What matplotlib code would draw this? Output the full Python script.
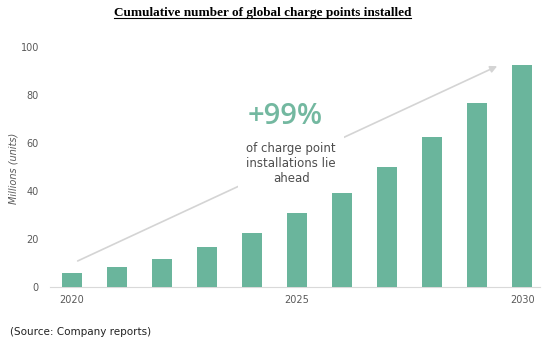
import numpy as np
import matplotlib.pyplot as plt
from matplotlib.lines import Line2D

# cumulative global charge points, millions of units
years = np.arange(2020, 2031)
charge_points = [5.7, 8.2, 11.7, 16.5, 22.6, 30.7, 39.0, 50.1, 62.4, 76.8, 92.5]
tick_years = [2020, 2025, 2030]
yticks = [0, 20, 40, 60, 80, 100]

bar_color = '#6ab59c'
label_color = '#595959'

fig = plt.figure(figsize=(5.49, 3.48), dpi=100, facecolor='white')
ax = fig.add_axes([0.091, 0.175, 0.893, 0.69])

ax.bar(years, charge_points, width=0.44, color=bar_color, zorder=4)

ax.set_xlim(2019.51, 2030.4)
ax.set_ylim(0, 100)
ax.set_xticks(tick_years)
ax.set_yticks(yticks)
ax.tick_params(length=0, labelsize=7, colors=label_color, pad=8)
ax.tick_params(axis='x', pad=6)
for side in ['top', 'right', 'left']:
    ax.spines[side].set_visible(False)
ax.spines['bottom'].set_color('#d9d9d9')
fig.text(0.024, 0.517, 'Millions (units)', fontsize=7, style='italic',
         color=label_color, rotation=90, ha='center', va='center')

# trend arrow behind the callout text
ax.annotate('', xy=(2029.5, 92.5), xytext=(2020.07, 10.4),
            arrowprops=dict(arrowstyle='-|>', color='#d4d4d4', lw=1.2,
                            mutation_scale=10),
            zorder=1)

ax.text(2024.73, 71.0, '+99%', fontsize=21, fontweight='semibold',
        family='Open Sans', color='#73b8a0',
        ha='center', va='center', zorder=3,
        bbox=dict(facecolor='white', edgecolor='none', pad=2))
ax.text(2024.87, 51.3, 'of charge point\ninstallations lie\nahead',
        fontsize=8.5, color='#4d4d4d', ha='center', va='center',
        linespacing=1.2, zorder=3,
        bbox=dict(facecolor='white', edgecolor='none', pad=6))

# underlined serif title
title = fig.text(0.478, 0.962, 'Cumulative number of global charge points installed',
                 fontsize=9.5, fontweight='bold', family='Liberation Serif',
                 ha='center', va='center')
fig.canvas.draw()
bb = title.get_window_extent().transformed(fig.transFigure.inverted())
fig.add_artist(Line2D([bb.x0, bb.x1], [bb.y0 + 0.004, bb.y0 + 0.004],
                      transform=fig.transFigure, color='black', lw=0.8))

fig.text(0.018, 0.045, '(Source: Company reports)', fontsize=7.5,
         color='#222222', ha='left', va='center')

fig.savefig('out.png', dpi=100)
